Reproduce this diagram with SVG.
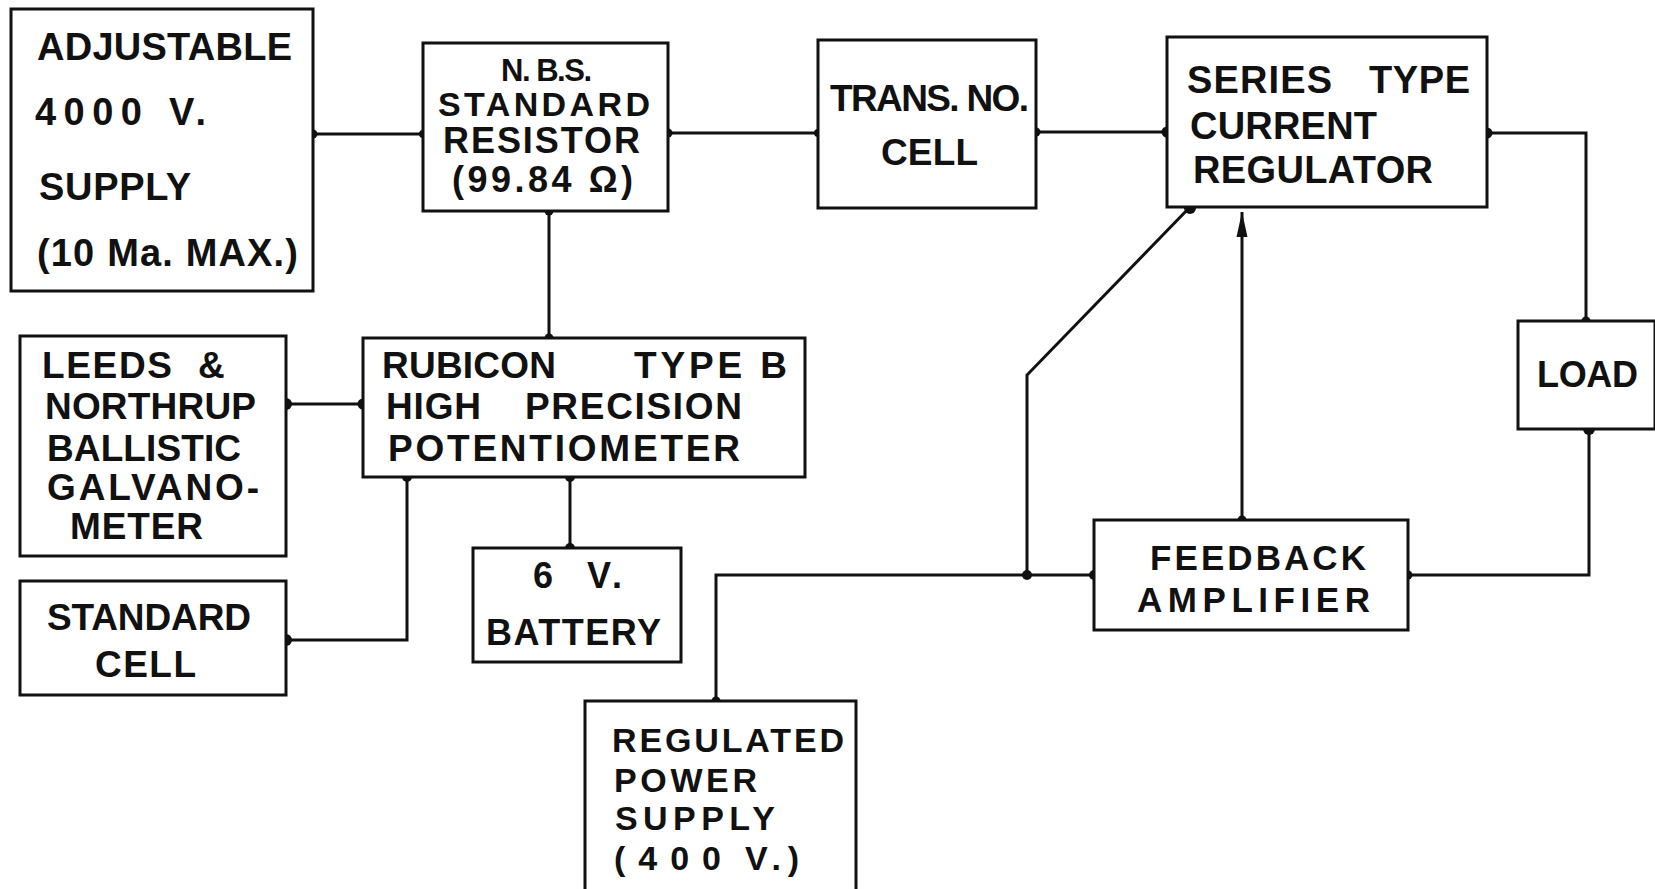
<svg xmlns="http://www.w3.org/2000/svg" width="1655" height="889" viewBox="0 0 1655 889">
<style>
.box{fill:#fff;stroke:#111;stroke-width:3}
.w{fill:none;stroke:#111;stroke-width:3;stroke-linejoin:miter}
.d{fill:#111}
text{font-family:"Liberation Sans",Arial,sans-serif;font-weight:bold;fill:#111}
</style>
<rect width="1655" height="889" fill="#fff"/>
<g id="connectors">
<path class="w" d="M313 134 H423"/>
<path class="w" d="M668 133 H818"/>
<path class="w" d="M1036 132 H1167"/>
<path class="w" d="M1487 133 H1586 V321"/>
<path class="w" d="M1589 429 V575 H1408"/>
<path class="w" d="M1242 520 V212"/>
<path d="M1242 212 L1247.5 237 L1236.5 237 Z" fill="#111"/>
<path class="w" d="M1190 207 L1027 375 V575"/>
<path class="w" d="M716 701 V575 H1094"/>
<path class="w" d="M549 211 V338"/>
<path class="w" d="M286 404 H363"/>
<path class="w" d="M407 477 V640 H286"/>
<path class="w" d="M570 477 V548"/>
<circle class="d" cx="313" cy="134" r="4.5"/>
<circle class="d" cx="423" cy="134" r="4"/>
<circle class="d" cx="668" cy="133" r="4.5"/>
<circle class="d" cx="818" cy="133" r="4"/>
<circle class="d" cx="1036" cy="132" r="4.5"/>
<circle class="d" cx="1167" cy="132" r="5.5"/>
<circle class="d" cx="1487" cy="133" r="5.5"/>
<circle class="d" cx="1586" cy="321" r="4.5"/>
<circle class="d" cx="1589" cy="429" r="6"/>
<circle class="d" cx="1408" cy="575" r="4.5"/>
<circle class="d" cx="1242" cy="520" r="4.5"/>
<circle class="d" cx="1190" cy="208" r="6"/>
<circle class="d" cx="1027" cy="575" r="5"/>
<circle class="d" cx="1094" cy="575" r="5"/>
<circle class="d" cx="716" cy="701" r="4.5"/>
<circle class="d" cx="549" cy="211" r="4.5"/>
<circle class="d" cx="549" cy="338" r="4.5"/>
<circle class="d" cx="286" cy="404" r="6"/>
<circle class="d" cx="363" cy="404" r="5.5"/>
<circle class="d" cx="407" cy="477" r="5"/>
<circle class="d" cx="286" cy="640" r="6"/>
<circle class="d" cx="570" cy="477" r="5"/>
<circle class="d" cx="570" cy="548" r="5"/>
</g>
<g id="adjustable">
<rect class="box" x="11" y="9" width="302" height="282"/>
<text x="37" y="60" font-size="38" textLength="255">ADJUSTABLE</text>
<text x="35" y="125" font-size="38" textLength="107">4000</text>
<text x="169" y="125" font-size="38" textLength="37">V.</text>
<text x="39" y="200" font-size="38" textLength="152">SUPPLY</text>
<text x="37" y="266" font-size="38" textLength="261">(10 Ma. MAX.)</text>
</g>
<g id="nbs">
<rect class="box" x="423" y="43" width="245" height="168"/>
<text x="501" y="81" font-size="31" textLength="91">N. B.S.</text>
<text x="438" y="116" font-size="34" textLength="212">STANDARD</text>
<text x="443" y="153" font-size="36" textLength="197">RESISTOR</text>
<text x="452" y="192" font-size="36" textLength="181">(99.84 Ω)</text>
</g>
<g id="trans">
<rect class="box" x="818" y="40" width="218" height="168"/>
<text x="830" y="111" font-size="37" textLength="199">TRANS. NO.</text>
<text x="881" y="165" font-size="37" textLength="97">CELL</text>
</g>
<g id="series">
<rect class="box" x="1167" y="37" width="320" height="170"/>
<text x="1187" y="93" font-size="38" textLength="145">SERIES</text>
<text x="1369" y="93" font-size="38" textLength="101">TYPE</text>
<text x="1190" y="139" font-size="38" textLength="187">CURRENT</text>
<text x="1193" y="183" font-size="38" textLength="240">REGULATOR</text>
</g>
<g id="load">
<rect class="box" x="1518" y="321" width="137" height="108"/>
<text x="1537" y="387" font-size="36" textLength="101">LOAD</text>
</g>
<g id="leeds">
<rect class="box" x="20" y="336" width="266" height="220"/>
<text x="42" y="378" font-size="37" textLength="130">LEEDS</text>
<text x="198" y="378" font-size="37" textLength="29">&amp;</text>
<text x="45" y="419" font-size="37" textLength="211">NORTHRUP</text>
<text x="47" y="461" font-size="37" textLength="194">BALLISTIC</text>
<text x="47" y="500" font-size="37" textLength="212">GALVANO-</text>
<text x="70" y="539" font-size="37" textLength="133">METER</text>
</g>
<g id="rubicon">
<rect class="box" x="363" y="338" width="442" height="139"/>
<text x="382" y="378" font-size="37" textLength="174">RUBICON</text>
<text x="634" y="378" font-size="37" textLength="153">TYPE B</text>
<text x="386" y="419" font-size="37" textLength="95">HIGH</text>
<text x="525" y="419" font-size="37" textLength="217">PRECISION</text>
<text x="388" y="461" font-size="37" textLength="352">POTENTIOMETER</text>
</g>
<g id="standard-cell">
<rect class="box" x="20" y="581" width="266" height="114"/>
<text x="47" y="630" font-size="37" textLength="204">STANDARD</text>
<text x="95" y="677" font-size="37" textLength="101">CELL</text>
</g>
<g id="battery">
<rect class="box" x="473" y="548" width="208" height="114"/>
<text x="533" y="588" font-size="36">6</text>
<text x="587" y="588" font-size="36" textLength="35">V.</text>
<text x="486" y="645" font-size="36" textLength="175">BATTERY</text>
</g>
<g id="feedback">
<rect class="box" x="1094" y="520" width="314" height="110"/>
<text x="1150" y="570" font-size="35" textLength="216">FEEDBACK</text>
<text x="1137" y="612" font-size="35" textLength="233">AMPLIFIER</text>
</g>
<g id="regulated">
<rect class="box" x="585" y="701" width="271" height="200"/>
<text x="612" y="752" font-size="34" textLength="232">REGULATED</text>
<text x="614" y="792" font-size="34" textLength="143">POWER</text>
<text x="615" y="830" font-size="34" textLength="160">SUPPLY</text>
<text x="614" y="870" font-size="34" textLength="107">(400</text>
<text x="745" y="870" font-size="34" textLength="54">V.)</text>
</g>
</svg>
